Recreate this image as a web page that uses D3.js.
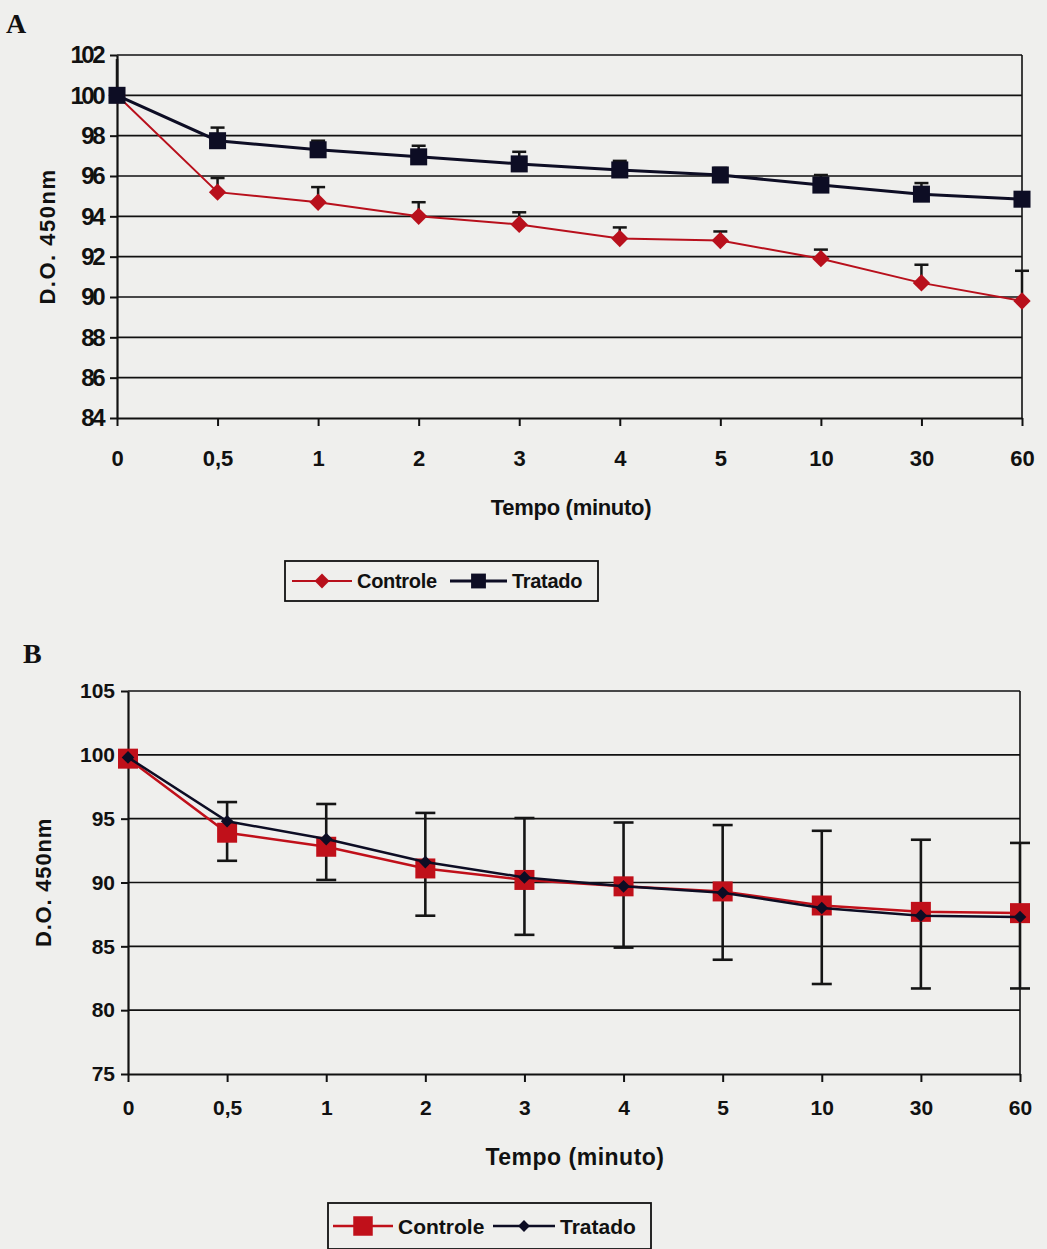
<!DOCTYPE html>
<html>
<head>
<meta charset="utf-8">
<script src="https://cdn.jsdelivr.net/npm/d3@7/dist/d3.min.js"></script>
<style>
	body { margin: 0; background: #efefed; }
	text { font-family: "Liberation Sans", Arial, sans-serif; fill: #111; }
</style>
</head>
<body>
<script>
//Time points (minutes), shared by both panels.
var categories = ["0", "0,5", "1", "2", "3", "4", "5", "10", "30", "60"];

//Panel A values.
var ticksA = [84, 86, 88, 90, 92, 94, 96, 98, 100, 102];
var controleA = [100, 95.2, 94.7, 94.0, 93.6, 92.9, 92.8, 91.9, 90.7, 89.8];
var controleAErr = [0, 0.7, 0.75, 0.7, 0.6, 0.55, 0.45, 0.45, 0.9, 1.5];
var tratadoA = [100, 97.75, 97.3, 96.95, 96.6, 96.3, 96.05, 95.55, 95.1, 94.85];
var tratadoAErr = [1.8, 0.65, 0.45, 0.55, 0.6, 0.45, 0.35, 0.5, 0.55, 0.3];

//Panel B values.
var ticksB = [75, 80, 85, 90, 95, 100, 105];
var controleB = [99.7, 93.9, 92.8, 91.1, 90.2, 89.7, 89.3, 88.2, 87.7, 87.6];
var tratadoB = [99.8, 94.8, 93.4, 91.6, 90.4, 89.7, 89.2, 88.0, 87.4, 87.3];
var errUpB = [0, 2.4, 3.35, 4.35, 4.85, 5.0, 5.2, 5.85, 5.65, 5.5];
var errDownB = [0, 2.2, 2.6, 3.7, 4.3, 4.8, 5.35, 6.15, 6.0, 5.9];

var red = "#c0101a";
var redA = "#b8101c";
var navy = "#0d0d24";

var svg = d3.select("body")
	.append("svg")
	.attr("width", 1047)
	.attr("height", 1249);

//Draws the frame, grid and axes of one panel; returns its scales.
function drawFrame(p){
	var x = d3.scalePoint()
		.domain(categories)
		.range([p.left, p.right]);
	var y = d3.scaleLinear()
		.domain([p.ticks[0], p.ticks[p.ticks.length - 1]])
		.range([p.bottom, p.top]);

	var g = svg.append("g");

	//Horizontal gridlines.
	g.selectAll(".grid")
		.data(p.ticks.slice(1))
		.enter()
		.append("line")
		.attr("x1", p.left)
		.attr("x2", p.right)
		.attr("y1", function(d){ return y(d); })
		.attr("y2", function(d){ return y(d); })
		.attr("stroke", "#111")
		.attr("stroke-width", 1.6);

	//Right border of plot area.
	g.append("line")
		.attr("x1", p.right).attr("x2", p.right)
		.attr("y1", p.top).attr("y2", p.bottom)
		.attr("stroke", "#111")
		.attr("stroke-width", 1.6);

	var yAxis = g.append("g")
		.attr("transform", "translate(" + p.left + ",0)")
		.call(d3.axisLeft(y).tickValues(p.ticks).tickSize(7).tickSizeOuter(0).tickPadding(p.yPad));

	var xAxis = g.append("g")
		.attr("transform", "translate(0," + p.bottom + ")")
		.call(d3.axisBottom(x).tickSize(8).tickSizeOuter(0).tickPadding(p.xPad));

	[yAxis, xAxis].forEach(function(a){
		a.select(".domain").attr("stroke", "#111").attr("stroke-width", 2.2);
		a.selectAll(".tick line").attr("stroke", "#111").attr("stroke-width", 2);
		a.selectAll(".tick text")
			.style("font-weight", "bold")
			.attr("fill", "#111");
	});
	yAxis.selectAll(".tick text")
		.style("font-size", p.yTickFont + "px")
		.style("letter-spacing", p.yTickSpacing + "px");
	xAxis.selectAll(".tick text")
		.style("font-size", p.xTickFont + "px");

	//Y axis title.
	g.append("text")
		.attr("transform", "translate(" + p.yTitleX + "," + ((p.top + p.bottom) / 2) + ") rotate(-90)")
		.attr("text-anchor", "middle")
		.style("font-size", "22px")
		.style("font-weight", "bold")
		.style("letter-spacing", p.yTitleSpacing + "px")
		.text("D.O. 450nm");

	//X axis title.
	g.append("text")
		.attr("x", p.xTitleX)
		.attr("y", p.xTitleY)
		.attr("text-anchor", "middle")
		.style("font-size", p.xTitleFont + "px")
		.style("font-weight", "bold")
		.style("letter-spacing", p.xTitleSpacing + "px")
		.text("Tempo (minuto)");

	//Panel letter.
	g.append("text")
		.attr("x", p.letterX)
		.attr("y", p.letterY)
		.style("font-family", "'Liberation Serif', 'Times New Roman', serif")
		.style("font-size", "28px")
		.style("font-weight", "bold")
		.text(p.letter);

	return {x: x, y: y, g: g};
}

//Draws one series: line, markers.
function drawSeries(f, values, color, width, shape, size){
	var line = d3.line()
		.x(function(d, i){ return f.x(categories[i]); })
		.y(function(d){ return f.y(d); });

	f.g.append("path")
		.datum(values)
		.attr("d", line)
		.attr("fill", "none")
		.attr("stroke", color)
		.attr("stroke-width", width);

	f.g.selectAll(null)
		.data(values)
		.enter()
		.append("path")
		.attr("d", d3.symbol().type(d3.symbolSquare).size(size))
		.attr("transform", function(d, i){
			return "translate(" + f.x(categories[i]) + "," + f.y(d) + ")" + (shape === "diamond" ? " rotate(45)" : "");
		})
		.attr("fill", color);
}

//Draws vertical error bars with caps.
function drawErrors(f, values, up, down, capW, width){
	var rows = values.map(function(v, i){
		var ends = [];
		if(i > 0){
			ends.push(f.y(v + up[i]));
			if(down[i] > 0) ends.push(f.y(v - down[i]));
		}
		return {cx: f.x(categories[i]), hi: f.y(v + up[i]), lo: f.y(v - down[i]), ends: ends};
	});

	var bars = f.g.selectAll(null)
		.data(rows)
		.enter()
		.append("g")
		.attr("stroke", "#151515")
		.attr("stroke-width", width);

	bars.append("line")
		.attr("x1", function(d){ return d.cx; })
		.attr("x2", function(d){ return d.cx; })
		.attr("y1", function(d){ return d.hi; })
		.attr("y2", function(d){ return d.lo; });

	//Caps (none on the first point).
	bars.selectAll(".cap")
		.data(function(d){ return d.ends.map(function(e){ return {cx: d.cx, y: e}; }); })
		.enter()
		.append("line")
		.attr("x1", function(d){ return d.cx - capW / 2; })
		.attr("x2", function(d){ return d.cx + capW / 2; })
		.attr("y1", function(d){ return d.y; })
		.attr("y2", function(d){ return d.y; });
}

//Legend box with two entries.
function drawLegend(l, entries){
	var g = svg.append("g").attr("transform", "translate(" + l.x + "," + l.y + ")");
	g.append("rect")
		.attr("width", l.w)
		.attr("height", l.h)
		.attr("fill", "none")
		.attr("stroke", "#111")
		.attr("stroke-width", 1.8);

	var item = g.selectAll(".item")
		.data(entries)
		.enter()
		.append("g")
		.attr("transform", function(d){ return "translate(" + d.dx + "," + (l.h / 2) + ")"; });

	item.append("line")
		.attr("x1", 0).attr("x2", function(d){ return d.len; })
		.attr("stroke", function(d){ return d.color; })
		.attr("stroke-width", function(d){ return d.width; });

	item.append("path")
		.attr("d", function(d){ return d3.symbol().type(d3.symbolSquare).size(d.size)(); })
		.attr("transform", function(d){ return "translate(" + (d.len / 2) + ",0)" + (d.shape === "diamond" ? " rotate(45)" : ""); })
		.attr("fill", function(d){ return d.color; });

	item.append("text")
		.attr("x", function(d){ return d.len + 5; })
		.attr("dy", "0.36em")
		.style("font-size", l.font + "px")
		.style("font-weight", "bold")
		.style("letter-spacing", l.spacing + "px")
		.text(function(d){ return d.name; });
}

var zerosA = categories.map(function(){ return 0; });

//Panel A.
var fA = drawFrame({
	left: 117, right: 1022, top: 55, bottom: 418, ticks: ticksA,
	yPad: 7, xPad: 24, yTickFont: 24, yTickSpacing: -2.5, xTickFont: 22,
	yTitleX: 55, yTitleSpacing: 1.5,
	xTitleX: 571, xTitleY: 515, xTitleFont: 22, xTitleSpacing: -0.3,
	letter: "A", letterX: 6, letterY: 33
});
drawErrors(fA, controleA, controleAErr, zerosA, 14, 2.5);
drawErrors(fA, tratadoA, tratadoAErr, zerosA, 14, 2.5);
drawSeries(fA, controleA, redA, 2, "diamond", 150);
drawSeries(fA, tratadoA, navy, 3, "square", 290);

drawLegend({x: 285, y: 561, w: 313, h: 40, font: 20, spacing: -0.3}, [
	{name: "Controle", color: redA, width: 2, shape: "diamond", size: 110, dx: 7, len: 60},
	{name: "Tratado", color: navy, width: 3, shape: "square", size: 220, dx: 165, len: 57}
]);

//Panel B.
var fB = drawFrame({
	left: 128, right: 1020, top: 691, bottom: 1074, ticks: ticksB,
	yPad: 6, xPad: 18, yTickFont: 21, yTickSpacing: 0, xTickFont: 21,
	yTitleX: 51, yTitleSpacing: 0.8,
	xTitleX: 575, xTitleY: 1165, xTitleFont: 23, xTitleSpacing: 0.5,
	letter: "B", letterX: 23, letterY: 663
});
drawErrors(fB, controleB, errUpB, errDownB, 20, 2.6);
drawSeries(fB, controleB, red, 2.5, "square", 400);
drawSeries(fB, tratadoB, navy, 2.5, "diamond", 80);

drawLegend({x: 328, y: 1203, w: 323, h: 46, font: 21, spacing: 0}, [
	{name: "Controle", color: red, width: 2.5, shape: "square", size: 380, dx: 5, len: 60},
	{name: "Tratado", color: navy, width: 2.5, shape: "diamond", size: 70, dx: 165, len: 62}
]);
</script>
</body>
</html>
